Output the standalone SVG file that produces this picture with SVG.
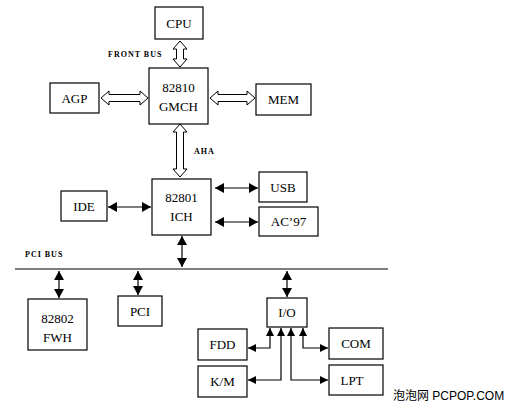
<svg xmlns="http://www.w3.org/2000/svg" width="512" height="406" viewBox="0 0 512 406">
<style>
.box{fill:#fff;stroke:#000;stroke-width:1.2}
.t{font-family:"Liberation Serif","Times New Roman",serif;font-size:13px;fill:#000;text-anchor:middle}
.s{font-family:"Liberation Serif","Times New Roman",serif;font-size:8px;font-weight:bold;fill:#000;letter-spacing:1px}
.ln{fill:none;stroke:#000;stroke-width:1.2}
.ha{fill:#fff;stroke:#000;stroke-width:1}
</style>
<defs>
<marker id="ah" markerUnits="userSpaceOnUse" markerWidth="9" markerHeight="10" refX="9" refY="5" orient="auto-start-reverse" viewBox="0 0 9 10">
<path d="M0,0 L9,5 L0,10 z" fill="#000"/>
</marker>
<marker id="as" markerUnits="userSpaceOnUse" markerWidth="8" markerHeight="8" refX="8" refY="4" orient="auto-start-reverse" viewBox="0 0 8 8">
<path d="M0,0 L8,4 L0,8 z" fill="#000"/>
</marker>
</defs>
<rect width="512" height="406" fill="#fff"/>
<g id="connectors">
<polygon class="ha" points="101,98 109,91 109,94.5 140,94.5 140,91 148,98 140,105 140,101.5 109,101.5 109,105"/>
<polygon class="ha" points="210,98 218,91 218,94.5 247,94.5 247,91 255,98 247,105 247,101.5 218,101.5 218,105"/>
<polygon class="ha" points="180,41 187,49 183.5,49 183.5,59 187,59 180,67 173,59 176.5,59 176.5,49 173,49"/>
<polygon class="ha" points="180,124 187,132 183.5,132 183.5,169 187,169 180,177 173,169 176.5,169 176.5,132 173,132"/>
<line class="ln" x1="108" y1="207" x2="151" y2="207" marker-start="url(#ah)" marker-end="url(#ah)"/>
<line class="ln" x1="215" y1="188" x2="258" y2="188" marker-start="url(#ah)" marker-end="url(#ah)"/>
<line class="ln" x1="215" y1="222" x2="258" y2="222" marker-start="url(#ah)" marker-end="url(#ah)"/>
<line class="ln" x1="182" y1="236" x2="182" y2="267" marker-start="url(#ah)" marker-end="url(#ah)"/>
<line class="ln" x1="15" y1="269" x2="388" y2="269"/>
<line class="ln" x1="59" y1="271" x2="59" y2="298" marker-start="url(#ah)" marker-end="url(#ah)"/>
<line class="ln" x1="138" y1="271" x2="138" y2="295" marker-start="url(#ah)" marker-end="url(#ah)"/>
<line class="ln" x1="287" y1="271" x2="287" y2="297" marker-start="url(#ah)" marker-end="url(#ah)"/>
<polyline class="ln" points="270,328 270,348 248,348" marker-start="url(#as)" marker-end="url(#as)"/>
<polyline class="ln" points="281,328 281,380 248,380" marker-start="url(#as)" marker-end="url(#as)"/>
<polyline class="ln" points="291,328 291,380 328,380" marker-start="url(#as)" marker-end="url(#as)"/>
<polyline class="ln" points="303,328 303,348 328,348" marker-start="url(#as)" marker-end="url(#as)"/>
</g>
<g id="cpu"><rect class="box" x="155" y="7" width="48" height="32"/><text class="t" x="179" y="28">CPU</text></g>
<g id="gmch"><rect class="box" x="149" y="68" width="59" height="56"/><text class="t" x="178.5" y="92">82810</text><text class="t" x="178.5" y="111">GMCH</text></g>
<g id="agp"><rect class="box" x="50" y="83" width="49" height="30"/><text class="t" x="74.5" y="103">AGP</text></g>
<g id="mem"><rect class="box" x="256" y="84" width="55" height="31"/><text class="t" x="283.5" y="104">MEM</text></g>
<g id="lbl-front"><text class="s" x="108" y="57">FRONT BUS</text></g>
<g id="lbl-aha"><text class="s" x="194" y="154">AHA</text></g>
<g id="ich"><rect class="box" x="152" y="179" width="59" height="56"/><text class="t" x="181.5" y="202">82801</text><text class="t" x="181.5" y="221">ICH</text></g>
<g id="ide"><rect class="box" x="61" y="191" width="46" height="30"/><text class="t" x="84" y="211">IDE</text></g>
<g id="usb"><rect class="box" x="259" y="172" width="48" height="30"/><text class="t" x="283" y="192">USB</text></g>
<g id="ac97"><rect class="box" x="259" y="207" width="59" height="29"/><text class="t" x="288.5" y="226">AC’97</text></g>
<g id="lbl-pci"><text class="s" x="25" y="257">PCI BUS</text></g>
<g id="fwh"><rect class="box" x="28" y="299" width="59" height="51"/><text class="t" x="57.5" y="323">82802</text><text class="t" x="57.5" y="342">FWH</text></g>
<g id="pci"><rect class="box" x="118" y="296" width="44" height="30"/><text class="t" x="140" y="316">PCI</text></g>
<g id="io"><rect class="box" x="267" y="298" width="40" height="29"/><text class="t" x="287" y="317">I/O</text></g>
<g id="fdd"><rect class="box" x="198" y="329" width="49" height="31"/><text class="t" x="222.5" y="349">FDD</text></g>
<g id="com"><rect class="box" x="329" y="328" width="54" height="31"/><text class="t" x="356" y="348">COM</text></g>
<g id="km"><rect class="box" x="198" y="366" width="49" height="31"/><text class="t" x="222.5" y="386">K/M</text></g>
<g id="lpt"><rect class="box" x="329" y="365" width="54" height="30"/><text class="t" x="352" y="385">LPT</text></g>
<g id="watermark"><text x="393" y="400" font-family="'Liberation Sans','Noto Sans CJK SC',sans-serif" font-size="12px" fill="#000">泡泡网  PCPOP.COM</text></g>
</svg>
